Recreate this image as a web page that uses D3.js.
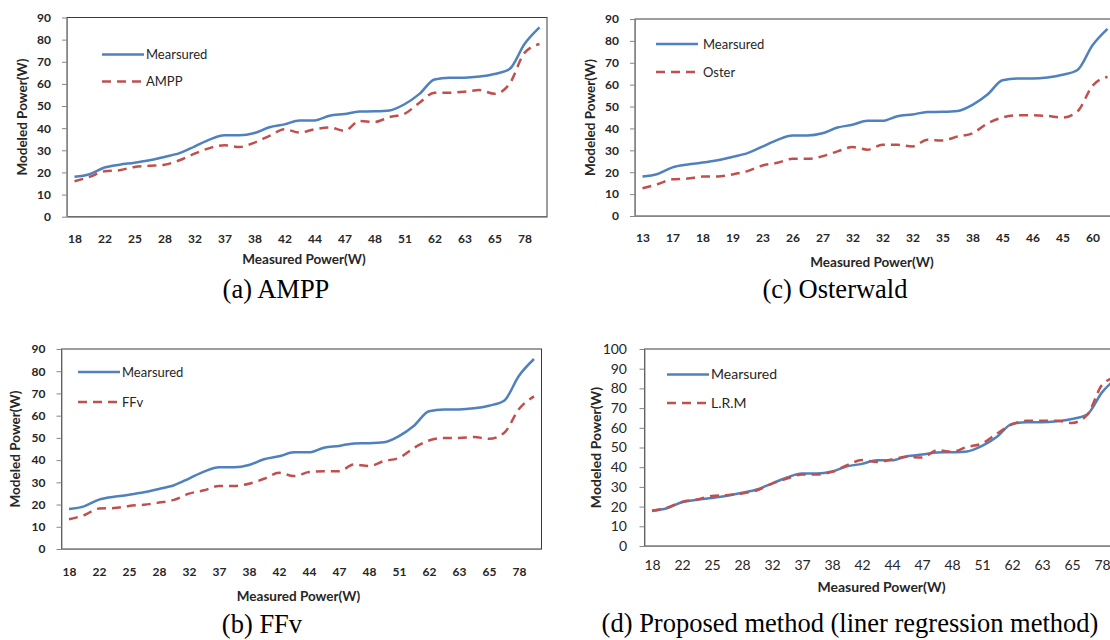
<!DOCTYPE html>
<html>
<head>
<meta charset="utf-8">
<script src="https://cdn.jsdelivr.net/npm/d3@7"></script>
<style>
  body { margin: 0; background: #fff; }
  svg { display: block; }
</style>
</head>
<body>
<script>
const width = 1110;
const height = 640;

// x categories (measured power) - only every other one is labelled on the axis
const measuredLabels = ["18","19","22","23","25","26","28","29","32","35","37","37","38","40","42","43",
                        "44","46","47","47","48","48","51","56","62","63","63","63","65","67","78","85"];
const osterLabels = ["13","15","17","17","18","18","19","21","23","24","26","26","27","30","32","30",
                     "32","32","32","35","35","36","38","42","45","46","46","46","45","48","60","64"];

// series values
const measured = [18,19.2,22.2,23.5,24.4,25.5,27,28.7,31.7,34.8,36.8,36.8,37.8,40.4,41.7,43.5,
                  43.5,45.6,46.4,47.5,47.6,48,50.8,55.5,62,62.8,62.8,63.3,64.5,66.7,78,85.5];
const ampp = [16,18,20.5,21,22.5,23,23.5,25.5,28.5,31,32.3,31.5,33.5,36.5,39.5,38,
              39.5,40.3,38.8,43.3,42.8,45,46.5,51.5,56,56,56.5,57.2,55.5,60,74,78];
const oster = [12.7,14.5,16.8,17.1,18,18.1,19,20.5,23.1,24.3,26.1,26.1,27.3,29.5,31.5,30.3,
               32.5,32.5,31.8,34.8,34.5,36.3,37.8,42.3,45,46,46,45.7,45,47.8,59.5,63.6];
const ffv = [13.4,15.2,18.2,18.4,19.4,19.9,20.9,22.1,24.9,26.4,28.4,28.4,29.4,31.6,34.3,32.8,
             34.6,35,35,38,37.3,39.6,41,45.5,48.8,50,50,50.4,49.6,52.2,63,68.7];
const lrm = [17.8,19.5,22.4,23.6,25.4,25.8,26.6,28.3,31.7,34.2,36.3,36.3,37.6,41,43.6,42.7,
             43.9,45.3,44.9,48.6,47.8,50.3,52,57.1,61.7,63.6,63.6,63.6,62.5,66.4,81.7,86];

const yTicks90 = [0,10,20,30,40,50,60,70,80,90];
const yTicks100 = [0,10,20,30,40,50,60,70,80,90,100];

const blue = "#4F81BD";
const red = "#C0504D";

const panels = [
  { model: ampp, name: "AMPP", labels: measuredLabels, yMax: 90, yTicks: yTicks90,
    left: 67, top: 17.5, bottom: 216.7, bold: true, tickSize: 12, tickPad: 18,
    legX: 102, legY: 54.5, legGap: 27, yTitleX: 22, xTitleY: 264, caption: "(a) AMPP", capX: 276, capY: 298 },
  { model: oster, name: "Oster", labels: osterLabels, yMax: 90, yTicks: yTicks90,
    left: 635, top: 19, bottom: 216, bold: true, tickSize: 12, tickPad: 17,
    legX: 656, legY: 44, legGap: 28, legText: 703, yTitleX: 590, xTitleY: 267, caption: "(c) Osterwald", capX: 835, capY: 298 },
  { model: ffv, name: "FFv", labels: measuredLabels, yMax: 90, yTicks: yTicks90,
    left: 61.5, top: 349, bottom: 549, bold: true, tickSize: 12, tickPad: 18,
    legX: 78, legY: 372, legGap: 30, yTitleX: 15, xTitleY: 601, caption: "(b) FFv", capX: 262, capY: 633 },
  { model: lrm, name: "L.R.M", labels: measuredLabels, yMax: 100, yTicks: yTicks100,
    left: 644.5, top: 349, bottom: 546, bold: false, tickSize: 14, tickPad: 14,
    legX: 667, legY: 374.5, legGap: 28.5, yTitleX: 596, xTitleY: 592, caption: "(d) Proposed method (liner regression method)", capX: 850, capY: 632 }
];

const svg = d3.select("body")
    .append("svg")
    .attr("width", width)
    .attr("height", height);

const plotW = 480;
const sans = "Lato, 'Open Sans', sans-serif";

panels.forEach(p => {
    const g = svg.append("g");
    const idx = d3.range(measured.length);

    const x = d3.scalePoint()
        .domain(idx)
        .range([p.left, p.left + plotW])
        .padding(0.5);

    const y = d3.scaleLinear()
        .domain([0, p.yMax])
        .range([p.bottom, p.top]);

    // plot area border
    g.append("rect")
        .attr("x", p.left)
        .attr("y", p.top)
        .attr("width", plotW)
        .attr("height", p.bottom - p.top)
        .attr("fill", "none")
        .attr("stroke", "#3c3c3c")
        .attr("stroke-width", 1);

    const fontW = p.bold ? "bold" : "normal";

    // y axis
    const yAxis = g.append("g")
        .attr("transform", `translate(${p.left},0)`)
        .call(d3.axisLeft(y).tickValues(p.yTicks).tickSize(5).tickSizeOuter(0).tickPadding(p.bold ? 11 : 12.5));
    yAxis.select(".domain").attr("stroke", "#868686");
    yAxis.selectAll(".tick line").attr("stroke", "#868686");
    yAxis.selectAll("text")
        .attr("font-family", sans)
        .attr("font-size", p.tickSize)
        .attr("font-weight", fontW)
        .attr("fill", "#262626");

    // x axis, every other category labelled
    const xAxis = g.append("g")
        .attr("transform", `translate(0,${p.bottom})`)
        .call(d3.axisBottom(x)
            .tickValues(idx.filter(i => i % 2 === 0))
            .tickFormat(i => p.labels[i])
            .tickSize(0)
            .tickSizeOuter(0)
            .tickPadding(p.tickPad));
    xAxis.select(".domain").attr("stroke", "#868686");
    xAxis.selectAll("text")
        .attr("font-family", sans)
        .attr("font-size", p.tickSize)
        .attr("font-weight", fontW)
        .attr("fill", "#262626");

    // lines
    const line = d3.line()
        .x((d, i) => x(i))
        .y(d => y(d))
        .curve(d3.curveMonotoneX);

    g.append("path")
        .datum(measured)
        .attr("d", line)
        .attr("fill", "none")
        .attr("stroke", blue)
        .attr("stroke-width", 2.5);

    g.append("path")
        .datum(p.model)
        .attr("d", line)
        .attr("fill", "none")
        .attr("stroke", red)
        .attr("stroke-width", 2.5)
        .attr("stroke-dasharray", "9,6");

    // legend
    const legTextX = p.legText || p.legX + 44;
    const legend = [
        { label: "Mearsured", color: blue, dash: null, y: p.legY },
        { label: p.name, color: red, dash: "9,6", y: p.legY + p.legGap }
    ];
    legend.forEach(l => {
        g.append("line")
            .attr("x1", p.legX).attr("x2", p.legX + 42)
            .attr("y1", l.y).attr("y2", l.y)
            .attr("stroke", l.color)
            .attr("stroke-width", 2.5)
            .attr("stroke-dasharray", l.dash);
        g.append("text")
            .attr("x", legTextX)
            .attr("y", l.y)
            .attr("dy", "0.35em")
            .attr("font-family", sans)
            .attr("font-size", p.bold ? 13 : 14)
            .attr("fill", "#262626")
            .text(l.label);
    });

    // axis titles
    g.append("text")
        .attr("x", p.left + plotW / 2 - 3)
        .attr("y", p.xTitleY)
        .attr("text-anchor", "middle")
        .attr("font-family", sans)
        .attr("font-size", p.bold ? 13.5 : 14)
        .attr("font-weight", "bold")
        .attr("fill", "#262626")
        .text("Measured Power(W)");

    g.append("text")
        .attr("transform", `translate(${p.yTitleX},${(p.top + p.bottom) / 2}) rotate(-90)`)
        .attr("dy", "0.35em")
        .attr("text-anchor", "middle")
        .attr("font-family", sans)
        .attr("font-size", p.bold ? 13.5 : 14)
        .attr("font-weight", "bold")
        .attr("fill", "#262626")
        .text("Modeled Power(W)");

    // caption
    g.append("text")
        .attr("x", p.capX)
        .attr("y", p.capY)
        .attr("text-anchor", "middle")
        .attr("font-family", "'Liberation Serif', 'Times New Roman', serif")
        .attr("font-size", 26.5)
        .attr("fill", "#000")
        .text(p.caption);
});
</script>
</body>
</html>
